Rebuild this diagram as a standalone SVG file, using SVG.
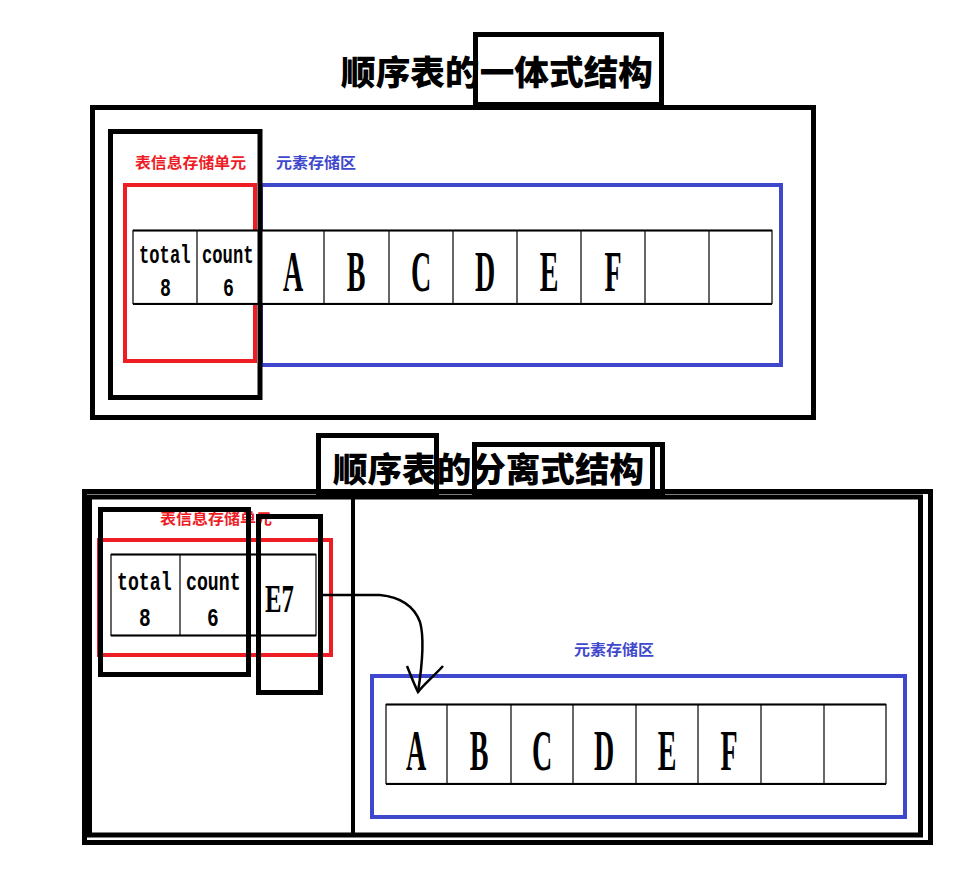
<svg xmlns="http://www.w3.org/2000/svg" width="976" height="870" viewBox="0 0 976 870">
<defs>
<style>
.frame{fill:none;stroke:#000;stroke-width:5}
.red{fill:none;stroke:#ee1c25;stroke-width:4}
.blue{fill:none;stroke:#3f48cc;stroke-width:4}
.cell{fill:#fff;stroke:#000;stroke-width:1.2}
.hl{stroke:#000;stroke-width:2.2}
.title{font-family:"Noto Sans CJK SC","Noto Sans",sans-serif;font-weight:900;font-size:34px;fill:#000}
.lblr{font-family:"Noto Sans CJK SC",sans-serif;font-weight:700;font-size:15px;fill:#ee1c25}
.lblb{font-family:"Noto Sans CJK SC",sans-serif;font-weight:700;font-size:15px;fill:#3f48cc}
.mono{font-family:"Liberation Mono",monospace;font-weight:bold;font-size:26px;fill:#000}
.big{font-family:"Liberation Serif",serif;font-weight:bold;font-size:56px;fill:#000;text-anchor:middle}
</style>
</defs>
<rect width="976" height="870" fill="#fff"/>

<!-- ===== Top: integrated structure ===== -->
<g id="title1">
<text class="title" x="341" y="85" textLength="312" lengthAdjust="spacingAndGlyphs">顺序表的一体式结构</text>
<rect class="frame" x="475.5" y="34.5" width="186" height="70"/>
</g>
<g id="outer1"><rect class="frame" x="92.5" y="107.5" width="721" height="310"/></g>
<g id="labels1">
<text class="lblr" x="135" y="168" textLength="111" lengthAdjust="spacingAndGlyphs">表信息存储单元</text>
<text class="lblb" x="276" y="168" textLength="80" lengthAdjust="spacingAndGlyphs">元素存储区</text>
</g>
<g id="elemArea1"><rect class="blue" x="261" y="185" width="520" height="180"/></g>
<g id="infoArea1"><rect class="red" x="125" y="185" width="130" height="176"/></g>
<g id="table1">
<rect class="cell" x="133" y="230.5" width="639" height="73"/>
<line class="hl" x1="133" y1="230.5" x2="772" y2="230.5"/>
<line class="hl" x1="133" y1="304" x2="772" y2="304"/>
<g stroke="#000" stroke-width="1.2">
<line x1="197" y1="230" x2="197" y2="304"/>
<line x1="324" y1="230" x2="324" y2="304"/>
<line x1="389" y1="230" x2="389" y2="304"/>
<line x1="453" y1="230" x2="453" y2="304"/>
<line x1="517" y1="230" x2="517" y2="304"/>
<line x1="581" y1="230" x2="581" y2="304"/>
<line x1="645" y1="230" x2="645" y2="304"/>
<line x1="709" y1="230" x2="709" y2="304"/>
</g>
<text class="mono" transform="translate(139,263) scale(0.66,1)">total</text>
<text class="mono" transform="translate(160,296) scale(0.7,1)">8</text>
<text class="mono" transform="translate(202,263) scale(0.66,1)">count</text>
<text class="mono" transform="translate(223,296) scale(0.7,1)">6</text>
<text class="big" transform="translate(293,291) scale(0.5,1)">A</text>
<text class="big" transform="translate(356,291) scale(0.5,1)">B</text>
<text class="big" transform="translate(421,291) scale(0.5,1)">C</text>
<text class="big" transform="translate(485,291) scale(0.5,1)">D</text>
<text class="big" transform="translate(549,291) scale(0.5,1)">E</text>
<text class="big" transform="translate(613,291) scale(0.5,1)">F</text>
</g>
<g id="infoBox1"><rect class="frame" x="110.5" y="131.5" width="149.5" height="266"/></g>

<!-- ===== Bottom: separated structure ===== -->
<g id="title2">
<text class="title" x="333" y="482" textLength="311" lengthAdjust="spacingAndGlyphs">顺序表的分离式结构</text>
<rect class="frame" x="318.5" y="435.5" width="118" height="57"/>
<rect class="frame" x="474.5" y="444.5" width="188" height="50"/>
<line class="frame" x1="652.5" y1="444" x2="652.5" y2="495"/>
</g>
<g id="outer2">
<rect class="frame" x="84.5" y="491.5" width="846" height="351"/>
<rect class="frame" x="89.5" y="497" width="831" height="338"/>
<line x1="353" y1="490" x2="353" y2="835" stroke="#000" stroke-width="4"/>
</g>
<g id="labels2">
<text class="lblr" x="160" y="524" textLength="112" lengthAdjust="spacingAndGlyphs">表信息存储单元</text>
<text class="lblb" x="574" y="655" textLength="80" lengthAdjust="spacingAndGlyphs">元素存储区</text>
</g>
<g id="infoArea2"><rect class="red" x="99" y="540" width="232" height="115"/></g>
<g id="table2">
<rect class="cell" x="111" y="554.5" width="205" height="81"/>
<line class="hl" x1="111" y1="554.5" x2="316" y2="554.5"/>
<line class="hl" x1="111" y1="635.5" x2="316" y2="635.5"/>
<line x1="180" y1="554" x2="180" y2="636" stroke="#000" stroke-width="1.2"/>
<text class="mono" transform="translate(117,590) scale(0.7,1)">total</text>
<text class="mono" transform="translate(139,626) scale(0.75,1)">8</text>
<text class="mono" transform="translate(186,590) scale(0.7,1)">count</text>
<text class="mono" transform="translate(207,626) scale(0.75,1)">6</text>
<text transform="translate(265,612) scale(0.62,1)" font-family="Liberation Serif,serif" font-weight="bold" font-size="40">E7</text>
</g>
<g id="infoBox2a"><rect class="frame" x="100.5" y="509.5" width="148" height="165"/></g>
<g id="infoBox2b"><rect class="frame" x="258.5" y="516.5" width="62" height="176"/></g>
<g id="elemArea2"><rect class="blue" x="372" y="676" width="533" height="141"/></g>
<g id="table2b">
<rect class="cell" x="386" y="704.5" width="500" height="79"/>
<line class="hl" x1="386" y1="704.5" x2="886" y2="704.5"/>
<line class="hl" x1="386" y1="784" x2="886" y2="784"/>
<g stroke="#000" stroke-width="1.2">
<line x1="447" y1="704" x2="447" y2="784"/>
<line x1="511" y1="704" x2="511" y2="784"/>
<line x1="573" y1="704" x2="573" y2="784"/>
<line x1="636" y1="704" x2="636" y2="784"/>
<line x1="698" y1="704" x2="698" y2="784"/>
<line x1="761" y1="704" x2="761" y2="784"/>
<line x1="824" y1="704" x2="824" y2="784"/>
</g>
<text class="big" transform="translate(416,770) scale(0.5,1)">A</text>
<text class="big" transform="translate(479,770) scale(0.5,1)">B</text>
<text class="big" transform="translate(542,770) scale(0.5,1)">C</text>
<text class="big" transform="translate(604,770) scale(0.5,1)">D</text>
<text class="big" transform="translate(667,770) scale(0.5,1)">E</text>
<text class="big" transform="translate(729,770) scale(0.5,1)">F</text>
</g>
<g id="connectors">
<path d="M320,595 L380,595 C400,597 414,606 420,622 C424,636 423,660 418,692" fill="none" stroke="#000" stroke-width="2.5"/>
<path d="M407,666 C411,676 414,684 418,692 C424,684 434,676 443,666" fill="none" stroke="#000" stroke-width="2.5"/>
</g>
</svg>
